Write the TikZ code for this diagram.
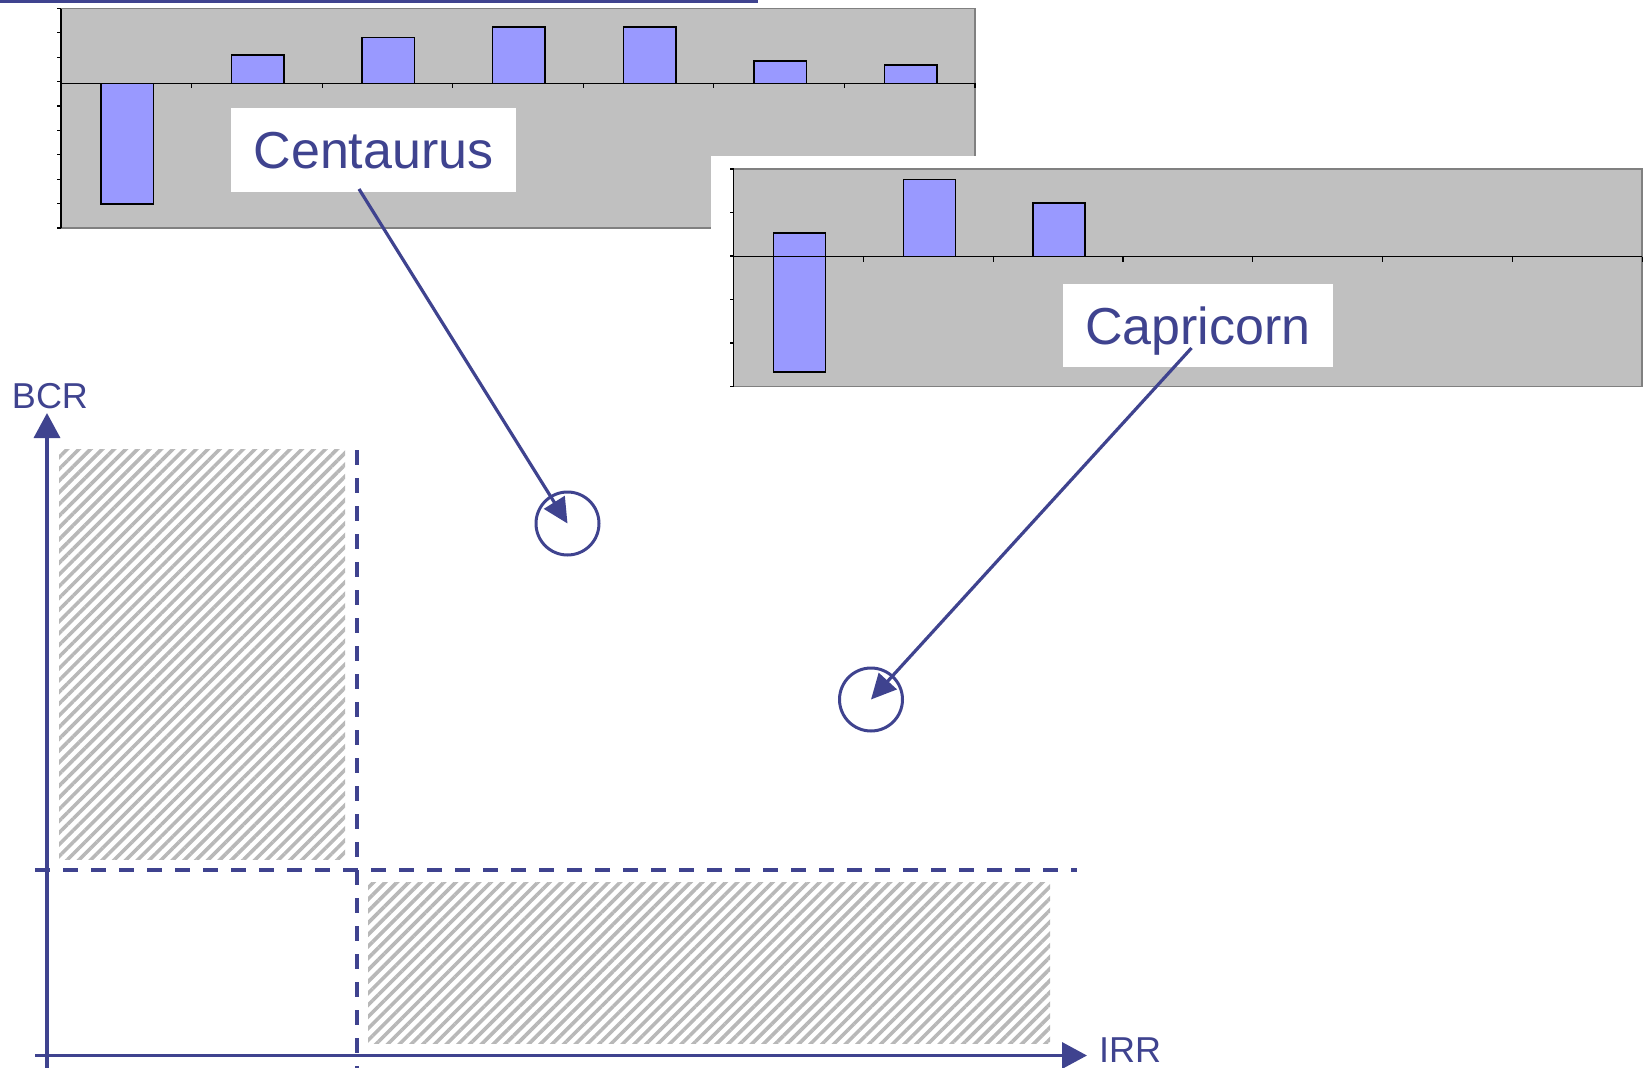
\documentclass[tikz,border=0pt]{standalone}
\usepackage{fontspec}
\setmainfont{Liberation Sans}
\usetikzlibrary{arrows.meta,patterns.meta}
\definecolor{navy}{RGB}{63,67,143}
\definecolor{barblue}{RGB}{153,153,255}
\definecolor{chartgray}{RGB}{192,192,192}
\definecolor{hatchgray}{RGB}{184,184,184}
\definecolor{bordergray}{RGB}{128,128,128}
\begin{document}
\begin{tikzpicture}[x=1pt,y=-1pt,
  lbl/.style={fill=white,text=navy,font=\fontsize{52pt}{60pt}\selectfont,inner sep=0pt,text height=37.5pt,text depth=0pt},
  axlbl/.style={text=navy,font=\fontsize{36pt}{42pt}\selectfont,inner sep=0pt,text height=25.8pt,text depth=0pt},
  ring/.style={circle,draw=navy,line width=3pt,minimum size=63pt,inner sep=0pt},
  conn/.style={draw=navy,line width=3.2pt,-{Triangle[length=25pt,width=24pt]}},
  axisline/.style={draw=navy,line width=3.5pt,-{Triangle[length=25pt,width=26pt]}},
  guide/.style={draw=navy,line width=3.5pt,dash pattern=on 15pt off 13pt},
  hatch/.style={pattern={Lines[angle=45,distance=8.3pt,line width=3.6pt]},pattern color=hatchgray},
  barbox/.style={fill=barblue,draw=black,line width=1.5pt},
  plotarea/.style={fill=chartgray,draw=bordergray,line width=1.2pt},
  tick/.style={draw=black,line width=1.2pt}]
\useasboundingbox (0,0) rectangle (1647,1068);

% top rule
\draw[navy,line width=3pt] (0,1.5) -- (758,1.5);

% hatched regions
\fill[hatch] (59,449) rectangle (345,859);
\fill[hatch] (368,882) rectangle (1050,1043);

% guide lines
\draw[guide] (357,450) -- (357,1068);
\draw[guide] (35,870) -- (1077,870);

% axes
\coordinate (ybot) at (47,1068);
\coordinate (ytop) at (47,413);
\coordinate (xleft) at (35,1055.5);
\coordinate (xright) at (1087,1055.5);
\draw[axisline] (ybot) -- (ytop);
\draw[axisline] (xleft) -- (xright);
\node[axlbl] (bcr) at (50,396) {BCR};
\node[axlbl] (irr) at (1130,1050) {IRR};

% chart 1
\draw[plotarea] (61,8.5) rectangle (975,228);
\draw[tick] (61,8.5) -- (61,228);
\foreach \k in {0,...,9} \draw[tick] (61,{8.5+\k*24.39}) -- ++(-4,0);
\foreach \i/\top/\bot in {0/83.3/204,1/55/83.3,2/37.5/83.3,3/27/83.3,4/27/83.3,5/61/83.3,6/65/83.3}
  \draw[barbox] ({61+\i*130.57+40},\top) rectangle ({61+\i*130.57+92.5},\bot);
\draw[tick] (61,83.3) -- (975,83.3);
\foreach \k in {1,...,7} \draw[tick] ({61+\k*130.57},83.3) -- ++(0,5);

% Centaurus label
\node[lbl,minimum width=285pt,minimum height=84pt] (cent) at (373.5,150) {Centaurus};

% chart 2
\fill[white] (711,155.5) rectangle (1647,395);
\draw[plotarea] (733.5,169) rectangle (1642,386.5);
\draw[tick] (733.5,169) -- (733.5,386.5);
\foreach \k in {0,...,5} \draw[tick] (733.5,{169+\k*43.5}) -- ++(-4,0);
\foreach \i/\top/\bot in {0/233/372,1/179.5/256.5,2/203/256.5}
  \draw[barbox] ({733.5+\i*129.8+40},\top) rectangle ({733.5+\i*129.8+92},\bot);
\draw[tick] (733.5,256.5) -- (1642,256.5);
\foreach \k in {1,...,7} \draw[tick] ({733.5+\k*129.8},256.5) -- ++(0,5);

% Capricorn label
\node[lbl,minimum width=270pt,minimum height=83pt] (capr) at (1198,325.5) {Capricorn};

% circles and connectors
\node[ring] (c1) at (567.5,523.5) {};
\node[ring] (c2) at (871,699.5) {};
\coordinate (centfrom) at (359,189);
\coordinate (caprfrom) at (1191.5,348);
\draw[conn] (centfrom) -- (c1.center);
\draw[conn] (caprfrom) -- (c2.center);
\end{tikzpicture}
\end{document}
